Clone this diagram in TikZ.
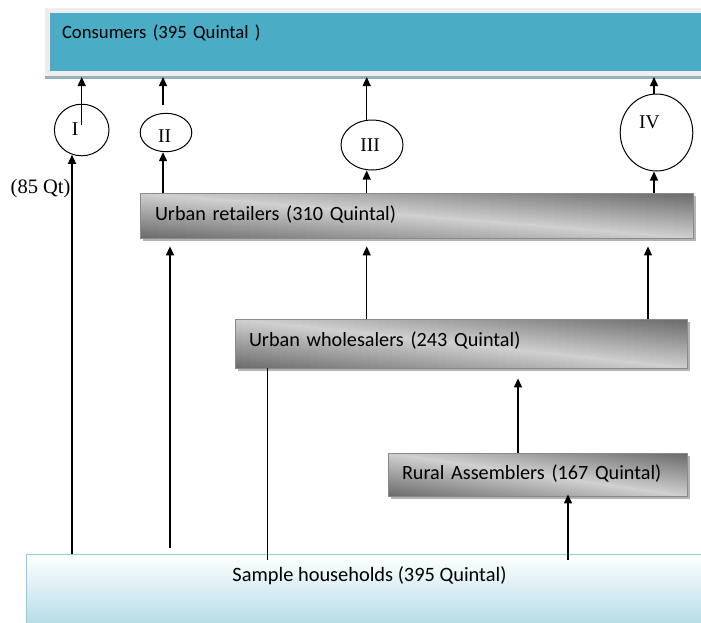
\documentclass[tikz,border=0pt]{standalone}
\usepackage{fontspec}
\setmainfont{Liberation Serif}
\newfontfamily\calibrifont{Carlito}
\usetikzlibrary{arrows.meta,shapes.geometric,calc}
\definecolor{tealc}{HTML}{4BACC6}
\definecolor{framec}{HTML}{EEEEEE}
\definecolor{framelinec}{HTML}{98B2BA}
\definecolor{hhblue}{HTML}{B6DDE8}
\definecolor{hhline}{HTML}{8ECFDF}
\definecolor{bardark}{HTML}{6A6A6A}
\definecolor{barlight}{HTML}{D0D0D0}
\definecolor{barline}{HTML}{8A8A8A}
\definecolor{barshadow}{HTML}{B4B4B4}
% diagonal grey fill of a bar: light along top-left/bottom-right diagonal
\newcommand\barfill[4]{%
  \fill[barshadow] (#1+2.5,#2+2.5) rectangle (#3+2.5,#4+2.5);
  \foreach \i in {0,...,59}{%
    \pgfmathsetmacro\bxa{#1+(#3-#1)/60*\i}%
    \pgfmathsetmacro\bxb{#1+(#3-#1)/60*(\i+1)+0.5}%
    \pgfmathsetmacro\bfrac{(\i+0.5)/60}%
    \pgfmathsetmacro\bym{#2+(#4-#2)*\bfrac}%
    \pgfmathsetmacro\btop{100*(1-\bfrac)}%
    \pgfmathsetmacro\bbot{100*\bfrac}%
    \shade[top color=barlight!\btop!bardark, bottom color=barlight] (\bxa,#2) rectangle (\bxb,\bym+0.3);
    \shade[top color=barlight, bottom color=barlight!\bbot!bardark] (\bxa,\bym) rectangle (\bxb,#4);
  }%
}
\begin{document}
\begin{tikzpicture}[x=1pt,y=-1pt,
  bar/.style={draw=barline, line width=0.8pt,
    inner ysep=0pt, align=left, font=\calibrifont\fontsize{20.2}{24}\selectfont},
  circ/.style={draw, ellipse, line width=1pt, inner sep=0pt, fill=white,
    font=\fontsize{19.5}{22}\selectfont},
  arr/.style={line width=1.3pt, -{Triangle[length=9pt,width=8pt]}},
  ln/.style={line width=0.9pt}]
\clip (0,0) rectangle (701,622);
\fill[white] (0,0) rectangle (701,622);
% consumers
\fill[framec] (45,8) rectangle (712,76);
\fill[framelinec] (45,76) rectangle (712,79);
\coordinate (conb) at (0,77);
\node[fill=tealc, minimum width=660pt, minimum height=58pt, inner xsep=12pt, inner ysep=0pt,
  text width=636pt, align=left, text height=13pt, text depth=21pt,
  font=\calibrifont\fontsize{18.7}{22}\selectfont] (con) at (380,42) {Consumers (395 Quintal )};
% households
\node[draw=hhline, line width=1pt, shading=axis, top color=white, middle color=hhblue!45, bottom color=hhblue,
  minimum width=687pt, minimum height=70pt, inner sep=0pt, text height=14pt, text depth=30pt,
  font=\calibrifont\fontsize{20.4}{24}\selectfont] (hh) at (369.5,589) {Sample households (395 Quintal)};
% bars
\barfill{140}{193}{693}{238}
\node[bar, minimum width=553pt, minimum height=45pt, inner xsep=15pt, text width=523pt,
  text height=14pt, text depth=5pt] (ret) at (416.5,215.5) {Urban retailers (310 Quintal)};
\barfill{235}{319}{687}{368}
\node[bar, minimum width=452pt, minimum height=49pt, inner xsep=14pt, text width=424pt,
  text height=14pt, text depth=9pt] (whole) at (461,343.5) {Urban wholesalers (243 Quintal)};
\barfill{388}{453}{687}{496}
\node[bar, minimum width=299pt, minimum height=43pt, inner xsep=14pt, text width=271pt,
  text height=14pt, text depth=5pt] (rur) at (537.5,474.5) {Rural Assemblers (167 Quintal)};
% circles
\node[circ, minimum width=54.6pt, minimum height=51.6pt, text height=13pt, text depth=3pt] (c1) at (81.7,130) {I\hspace*{13pt}};
\node[circ, minimum width=51.6pt, minimum height=38.4pt, text height=20pt, text depth=0pt] (c2) at (166,132.5) {II\hspace*{3pt}};
\node[circ, minimum width=62pt, minimum height=50pt, text height=13pt, text depth=1pt] (c3) at (372,145) {III\hspace*{4pt}};
\node[circ, minimum width=72.6pt, minimum height=77pt, text height=13pt, text depth=22pt] (c4) at (656.5,132.5) {IV\hspace*{14pt}};
\node[anchor=base west, inner sep=0pt, font=\fontsize{20.5}{24}\selectfont] (qt) at (10.5,193) {(85 Qt)};
% x positions
\coordinate (xa) at (72,0);
\coordinate (xb) at (81.7,0);
\coordinate (xc) at (163,0);
\coordinate (xd) at (170,0);
\coordinate (xe) at (366.7,0);
\coordinate (xf) at (648,0);
\coordinate (xg) at (654,0);
\coordinate (xh) at (267,0);
\coordinate (xi) at (518,0);
\coordinate (xj) at (568,0);
% arrows to consumers
\draw[arr] ($(c1.center)+(0,-5)$) -- (xb |- conb);
\draw[arr] ($(xc |- c2.north)+(0,-8)$) -- (xc |- conb);
\draw[arr] (xe |- c3.north) -- (xe |- conb);
\draw[arr] (xg |- c4.north) -- (xg |- conb);
% arrows to circles
\draw[arr] (xa |- hh.north) -- ($(xa |- c1.south)+(0,-1.5)$);
\draw[arr] (xc |- ret.north) -- (xc |- c2.south);
\draw[arr] (xe |- ret.north) -- (xe |- c3.south);
\draw[arr] (xg |- ret.north) -- (xg |- c4.south);
% arrows to retailers
\draw[arr] ($(xd |- hh.north)+(0,-6)$) -- ($(xd |- ret.south)+(0,8)$);
\draw[arr] (xe |- whole.north) -- ($(xe |- ret.south)+(0,8)$);
\draw[arr] (xf |- whole.north) -- ($(xf |- ret.south)+(0,8)$);
% others
\draw[ln] (xh |- whole.south) -- ($(xh |- hh.north)+(0,6)$);
\draw[arr] (xi |- rur.north) -- ($(xi |- whole.south)+(0,10)$);
\draw[arr] ($(xj |- hh.north)+(0,6)$) -- ($(xj |- rur.south)+(0,-2)$);
\end{tikzpicture}
\end{document}
